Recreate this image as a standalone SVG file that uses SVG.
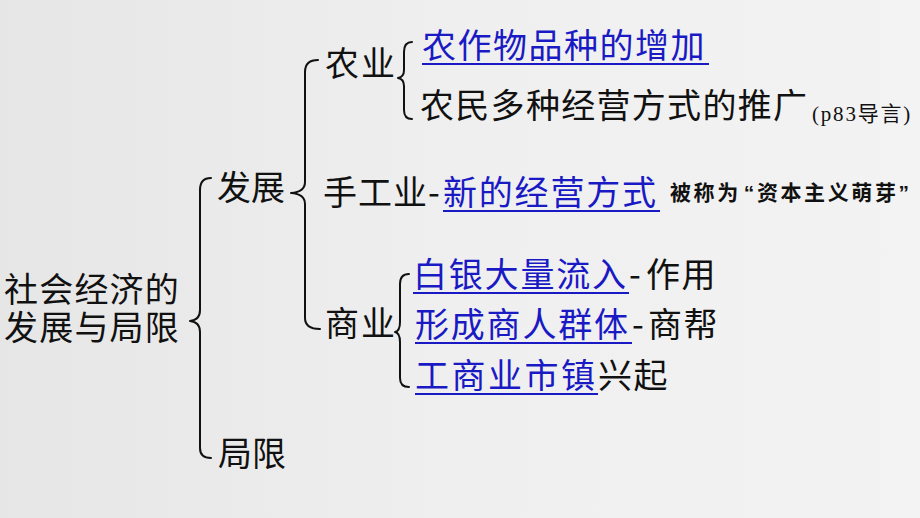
<svg xmlns="http://www.w3.org/2000/svg" width="920" height="518" viewBox="0 0 920 518">
<defs>
<linearGradient id="bg" x1="0" y1="0" x2="1" y2="0">
<stop offset="0" stop-color="#e6e6e6"/>
<stop offset="0.5" stop-color="#efefef"/>
<stop offset="1" stop-color="#f3f3f3"/>
</linearGradient>
<style>
text{font-family:"Noto Sans CJK SC","Noto Sans",sans-serif;fill:#111;}
.t{font-size:34px;}
.b{fill:#1a1ac4;}
.u{stroke:#1a1ac4;stroke-width:2;}
.br{fill:none;stroke:#111;stroke-width:2;stroke-linecap:round;stroke-linejoin:round;}
.s{font-size:21px;}
.q{font-family:"Liberation Sans",sans-serif;}
.p{font-size:21px;}
</style>
</defs>
<rect width="920" height="518" fill="url(#bg)"/>
<g id="connectors">
<path class="br" d="M211,178 Q200,178 200,190 L200,310 Q200,320 190,321 Q200,322 200,332 L200,448 Q200,458 211,458"/>
<path class="br" d="M318,60 Q305,60 305,72 L305,182 Q305,192 291,193 Q305,194 305,204 L305,318 Q305,329 320,329"/>
<path class="br" d="M412,42 Q404,42 404,52 L404,70 Q404,77 398,78 Q404,79 404,86 L404,110 Q404,119 412,119"/>
<path class="br" d="M409,274 Q400,274 400,284 L400,322 Q400,331 395,332 Q400,333 400,342 L400,378 Q400,387 409,387"/>
</g>
<g id="root"><text class="t" letter-spacing="1.2"><tspan x="4" y="302">社会经济的</tspan><tspan x="4" y="340">发展与局限</tspan></text></g>
<g id="fazhan"><text class="t" x="217" y="200">发展</text></g>
<g id="juxian"><text class="t" x="218" y="466">局限</text></g>
<g id="nongye"><text class="t" x="325" y="76" letter-spacing="2">农业</text></g>
<g id="nongye1"><text class="t b" x="422" y="58" letter-spacing="1.5">农作物品种的增加</text><line class="u" x1="422" y1="64" x2="709" y2="64"/></g>
<g id="nongye2"><text class="t" x="420" y="118" letter-spacing="1.3">农民多种经营方式的推广</text><text class="p" x="812" y="121" letter-spacing="1.8"><tspan font-family="Liberation Serif">(p83</tspan>导言<tspan font-family="Liberation Serif">)</tspan></text></g>
<g id="shougongye"><text class="t" x="323" y="205" letter-spacing="1">手工业</text><text class="t" x="428" y="205" font-family="Liberation Sans">-</text><text class="t b" x="443" y="205" letter-spacing="1.8">新的经营方式</text><line class="u" x1="443" y1="211" x2="660" y2="211"/><text class="s" x="670" y="200" font-weight="bold" letter-spacing="2.6">被称为<tspan class="q" dx="3">“</tspan>资本主义萌芽<tspan class="q">”</tspan></text></g>
<g id="shangye"><text class="t" x="325" y="336" letter-spacing="2">商业</text></g>
<g id="shangye1"><text class="t b" x="413" y="287" letter-spacing="1.8">白银大量流入</text><line class="u" x1="413" y1="293" x2="629" y2="293"/><text class="t" x="629" y="287" font-family="Liberation Sans">-</text><text class="t" x="646" y="287" letter-spacing="1.5">作用</text></g>
<g id="shangye2"><text class="t b" x="415" y="337" letter-spacing="1.8">形成商人群体</text><line class="u" x1="415" y1="343" x2="632" y2="343"/><text class="t" x="632" y="337" font-family="Liberation Sans">-</text><text class="t" x="648" y="337" letter-spacing="1.5">商帮</text></g>
<g id="shangye3"><text class="t b" x="415" y="388" letter-spacing="2.5">工商业市镇</text><line class="u" x1="415" y1="394" x2="598" y2="394"/><text class="t" x="598" y="388" letter-spacing="1.5">兴起</text></g>
</svg>
